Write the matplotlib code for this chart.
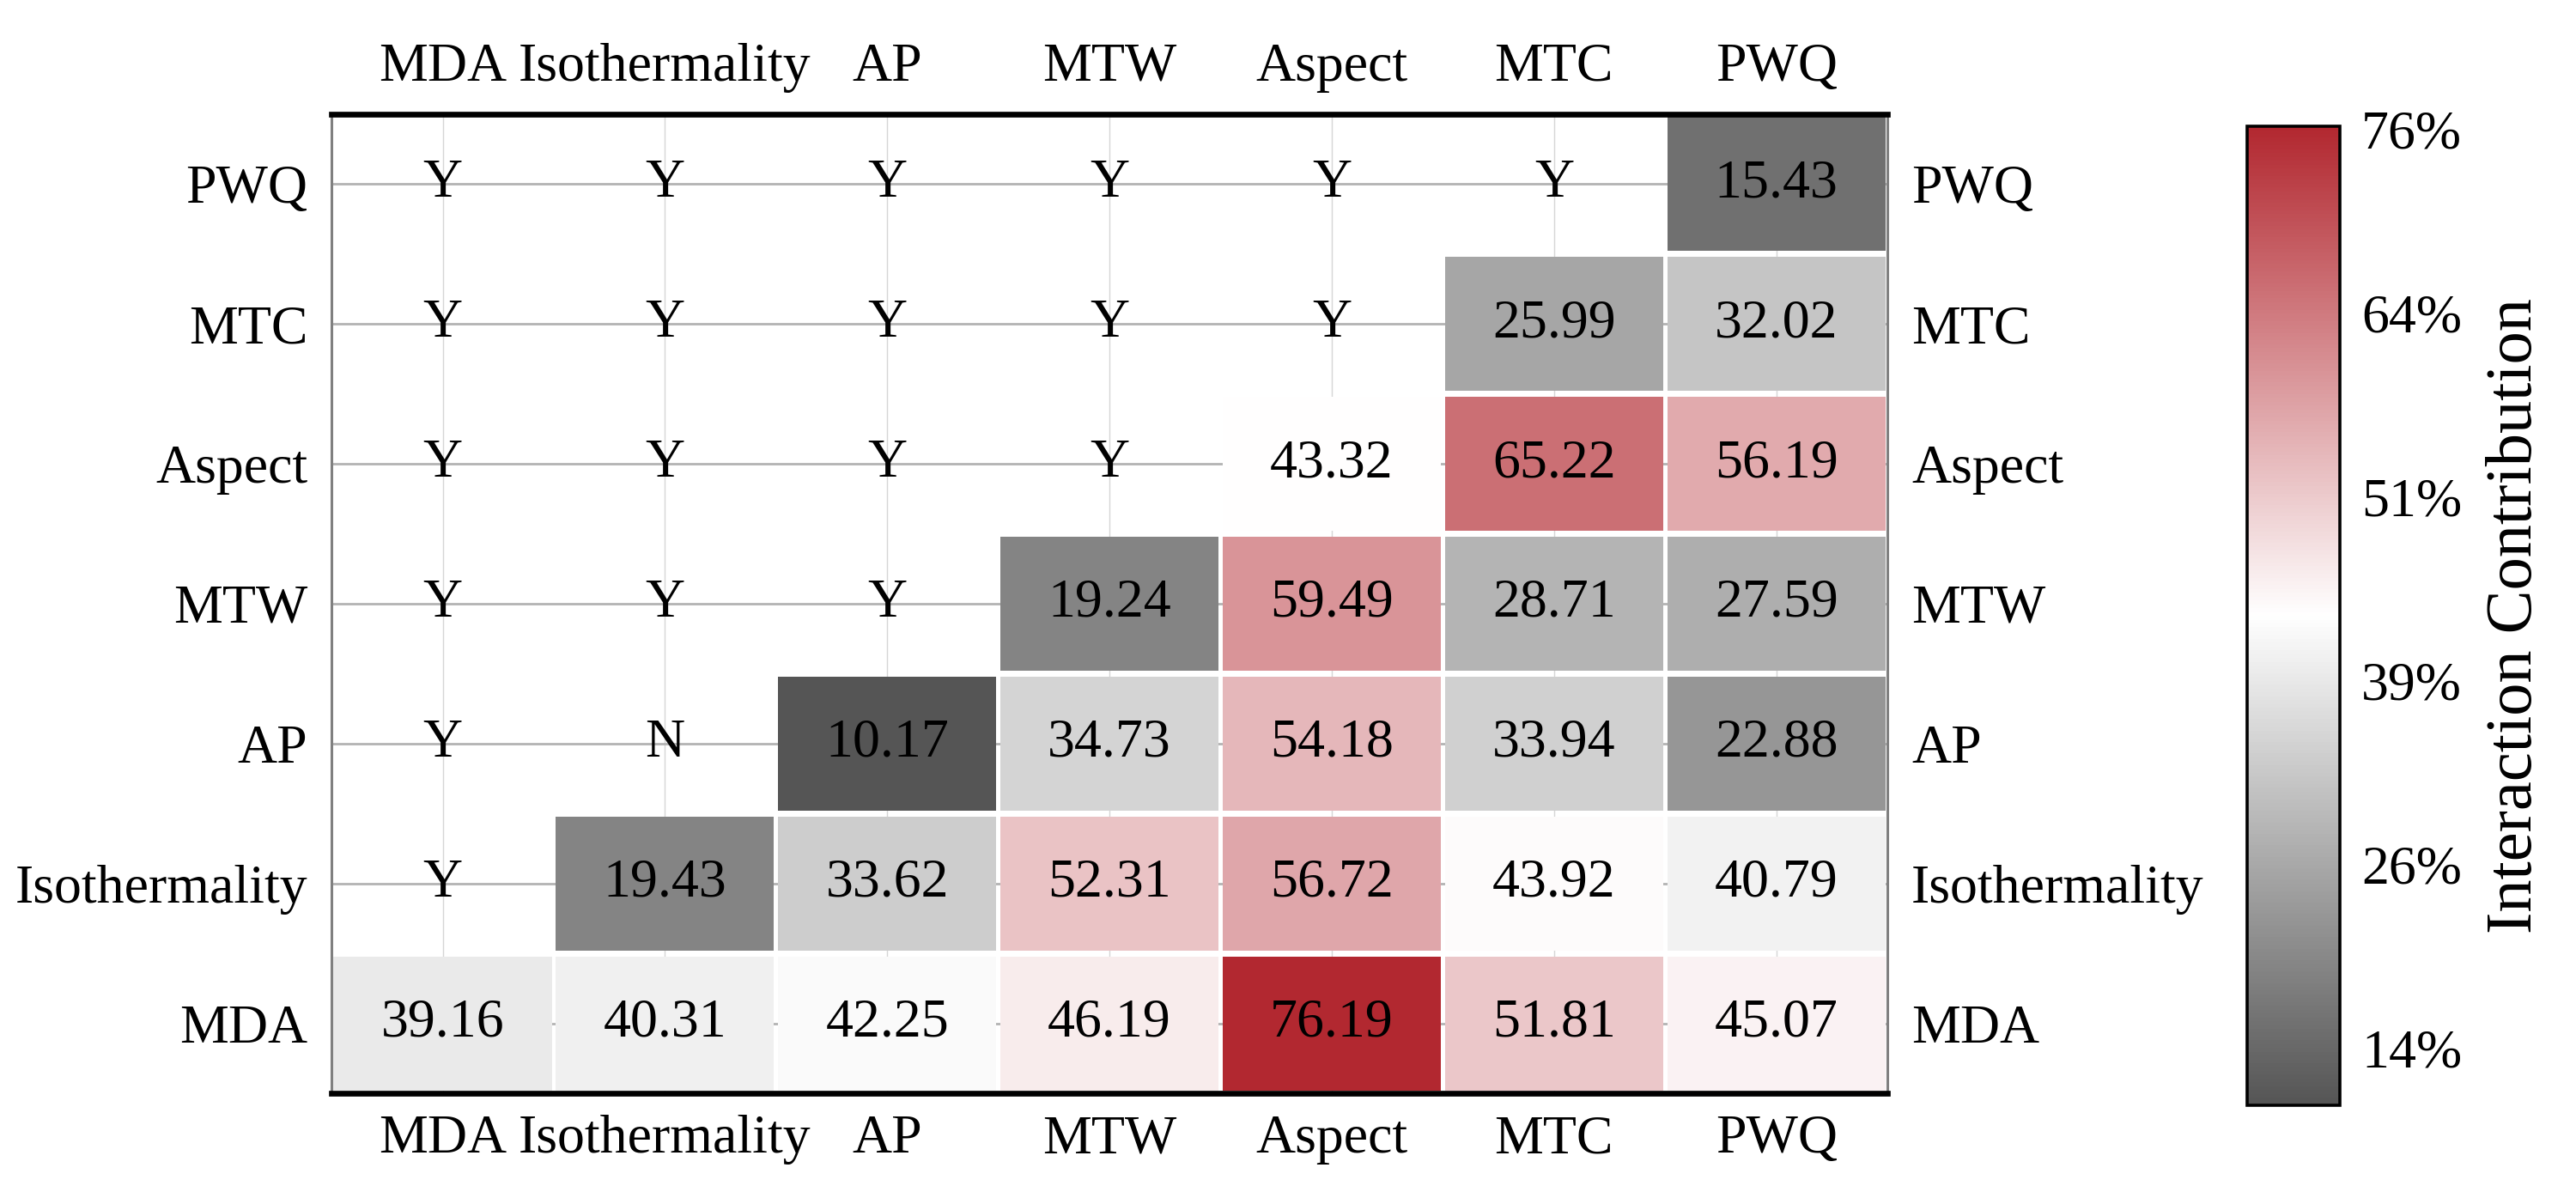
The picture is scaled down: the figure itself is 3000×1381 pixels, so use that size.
import matplotlib.pyplot as plt
import numpy as np
from matplotlib.colors import LinearSegmentedColormap, Normalize
from matplotlib.patches import Rectangle

plt.rcParams['font.family'] = ['Liberation Serif', 'DejaVu Serif']

labels = ['MDA', 'Isothermality', 'AP', 'MTW', 'Aspect', 'MTC', 'PWQ']

# interaction values, row i (from bottom) -> columns j >= i
row_mda = [39.16, 40.31, 42.25, 46.19, 76.19, 51.81, 45.07]
row_iso = [19.43, 33.62, 52.31, 56.72, 43.92, 40.79]
row_ap = [10.17, 34.73, 54.18, 33.94, 22.88]
row_mtw = [19.24, 59.49, 28.71, 27.59]
row_aspect = [43.32, 65.22, 56.19]
row_mtc = [25.99, 32.02]
row_pwq = [15.43]
rows = [row_mda, row_iso, row_ap, row_mtw, row_aspect, row_mtc, row_pwq]

# significance marks, row i -> columns j < i
sig_iso = ['Y']
sig_ap = ['Y', 'N']
sig_mtw = ['Y', 'Y', 'Y']
sig_aspect = ['Y', 'Y', 'Y', 'Y']
sig_mtc = ['Y', 'Y', 'Y', 'Y', 'Y']
sig_pwq = ['Y', 'Y', 'Y', 'Y', 'Y', 'Y']
sigs = [[], sig_iso, sig_ap, sig_mtw, sig_aspect, sig_mtc, sig_pwq]

n = len(labels)
allvals = np.concatenate([np.array(r) for r in rows])
vmin, vmax = allvals.min(), allvals.max()
cmap = LinearSegmentedColormap.from_list('gwr', ['#555555', '#ffffff', '#b22830'])
norm = Normalize(vmin=vmin, vmax=vmax)

fig = plt.figure(figsize=(15, 6.905), dpi=200)
ax = fig.add_axes([0.1287, 0.0782, 0.604, 0.8255])
cax = fig.add_axes([0.8723, 0.068, 0.036, 0.8255])

ax.set_xlim(-0.5, n - 0.5)
ax.set_ylim(-0.5, n - 0.5)

for k in range(n):
    ax.axhline(k, color='#b3b3b3', lw=1.0, zorder=0)
    ax.axvline(k, color='#d6d6d6', lw=0.5, zorder=0)

dx, dy = 0.018, 0.042
for i, r in enumerate(rows):
    for k, v in enumerate(r):
        j = i + k
        ax.add_patch(Rectangle((j - 0.5 + dx / 2, i - 0.5 + dy / 2), 1 - dx, 1 - dy,
                               facecolor=cmap(norm(v)), edgecolor='none', zorder=1))
        ax.text(j, i, f'{v:.2f}', ha='center', va='center', fontsize=23, zorder=3)
    for j, s in enumerate(sigs[i]):
        ax.text(j, i, s, ha='center', va='center', fontsize=23, zorder=3)

ax.set_xticks(range(n))
ax.set_yticks(range(n))
ax.set_xticklabels(labels)
ax.set_yticklabels(labels)
ax.tick_params(axis='x', top=True, labeltop=True, bottom=True, labelbottom=True,
               length=0, pad=9, labelsize=23)
ax.tick_params(axis='y', left=True, labelleft=True, right=True, labelright=True,
               length=0, pad=10, labelsize=23)

for side in ['top', 'bottom']:
    ax.spines[side].set_color('black')
    ax.spines[side].set_linewidth(2.4)
for side in ['left', 'right']:
    ax.spines[side].set_color('#808080')
    ax.spines[side].set_linewidth(1.1)

sm = plt.cm.ScalarMappable(norm=norm, cmap=cmap)
cb = fig.colorbar(sm, cax=cax)
ticks = np.linspace(14, 76, 6)
cb.set_ticks(ticks)
cb.set_ticklabels([f'{t:.0f}%' for t in ticks])
cb.ax.tick_params(length=0, pad=9, labelsize=23)
cb.outline.set_linewidth(1.3)
cb.set_label('Interaction Contribution', fontsize=27.5, labelpad=10)

fig.savefig('out.png', dpi=200)
